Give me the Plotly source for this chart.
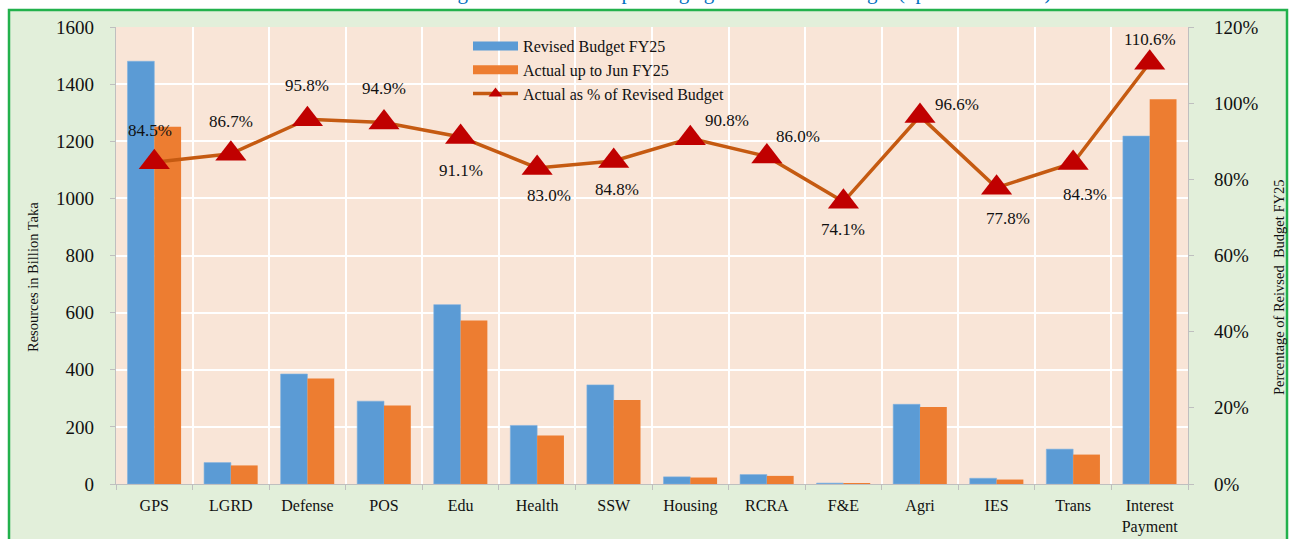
import plotly.graph_objects as go

categories = ["GPS", "LGRD", "Defense", "POS", "Edu", "Health", "SSW", "Housing",
              "RCRA", "F&E", "Agri", "IES", "Trans", "Interest<br>Payment"]
revised_budget = [1480, 75, 385, 290, 628, 205, 347, 25, 33, 3.0, 279, 20, 122, 1218]
actual_jun = [1251, 65, 369, 275, 572, 170, 294, 22.7, 28.4, 2.2, 270, 15.6, 103, 1347]
actual_pct = [84.5, 86.7, 95.8, 94.9, 91.1, 83.0, 84.8, 90.8, 86.0, 74.1, 96.6, 77.8, 84.3, 110.6]
pct_labels = [f"{v:.1f}%" for v in actual_pct]
# label offsets (pixels) relative to each point: (dx, dy), dy positive = down
label_offsets = [(-4, -32), (0, -32), (0, -34), (0, -34), (0, 33), (12, 28), (3, 28),
                 (37, -18), (31, -20), (0, 28), (37, -12), (11, 31), (12, 32), (0, -23)]

BLUE = "#5B9BD5"
ORANGE = "#ED7D31"
LINE = "#C55A11"
RED = "#C00000"
FONT = "Liberation Serif"

L, R, T, B = 116, 102, 27, 55
W, H = 1290, 539
PW, PH = W - L - R, H - T - B


def px(x):
    return (x - L) / PW


def py(y):
    return (H - B - y) / PH


fig = go.Figure()
fig.add_trace(go.Bar(x=categories, y=revised_budget, name="Revised Budget FY25",
                     marker=dict(color=BLUE, line=dict(color="#7FB2E0", width=0.6)),
                     showlegend=False))
fig.add_trace(go.Bar(x=categories, y=actual_jun, name="Actual up to Jun FY25",
                     marker=dict(color=ORANGE, line=dict(width=0)), showlegend=False))
fig.add_trace(go.Scatter(x=categories, y=actual_pct, yaxis="y2", mode="lines+markers",
                         name="Actual as % of Revised Budget",
                         line=dict(color=LINE, width=3.5),
                         marker=dict(symbol="triangle-up", size=27, color=RED),
                         showlegend=False, cliponaxis=False))
# legend entries
fig.add_trace(go.Scatter(x=[None], y=[None], mode="lines", name="Revised Budget FY25",
                         line=dict(color=BLUE, width=9)))
fig.add_trace(go.Scatter(x=[None], y=[None], mode="lines", name="Actual up to Jun FY25",
                         line=dict(color=ORANGE, width=9)))
fig.add_trace(go.Scatter(x=[None], y=[None], mode="lines+markers", yaxis="y2",
                         name="Actual as % of Revised Budget",
                         line=dict(color=LINE, width=3.5),
                         marker=dict(symbol="triangle-up", size=12, color=RED)))

annotations = [
    dict(text="Resources in Billion Taka", xref="paper", yref="paper",
         x=px(33), y=py(277), textangle=-90, showarrow=False,
         xanchor="center", yanchor="middle",
         font=dict(family=FONT, size=14.5, color="#111111")),
    dict(text="Percentage of Reivsed  Budget FY25", xref="paper", yref="paper",
         x=px(1279), y=py(288), textangle=-90, showarrow=False,
         xanchor="center", yanchor="middle",
         font=dict(family=FONT, size=14.5, color="#111111")),
    dict(text="Figure: Sector-wise Spending against Revised Budget (up to June FY25)",
         xref="paper", yref="paper", x=px(745), y=py(5.5), showarrow=False,
         xanchor="center", yanchor="bottom",
         font=dict(family=FONT, size=21, color="#0070C0")),
]
for cat, val, lab, (dx, dy) in zip(categories, actual_pct, pct_labels, label_offsets):
    annotations.append(dict(text=lab, x=cat, y=val, xref="x", yref="y2", showarrow=False,
                            xshift=dx, yshift=-dy, xanchor="center", yanchor="middle",
                            font=dict(family=FONT, size=17, color="#111111")))

fig.update_layout(
    width=W, height=H,
    margin=dict(l=L, r=R, t=T, b=B, autoexpand=False),
    paper_bgcolor="white",
    plot_bgcolor="#F9E5D7",
    barmode="group", bargap=0.3, bargroupgap=0,
    font=dict(family=FONT, size=17, color="#111111"),
    xaxis=dict(type="category", range=[-0.5, len(categories) - 0.5],
               tickson="boundaries", showgrid=True, gridcolor="white",
               gridwidth=1.5, showline=True, linecolor="#BFBFBF", linewidth=1.2,
               ticks="outside", ticklen=5, tickcolor="#BFBFBF", ticklabelstandoff=7,
               tickfont=dict(family=FONT, size=16, color="#111111")),
    yaxis=dict(range=[0, 1600], dtick=200, showgrid=True, gridcolor="white", gridwidth=1.5,
               zeroline=False, showline=True, linecolor="#BFBFBF", linewidth=1.2,
               ticks="outside", ticklen=5, tickcolor="#BFBFBF", ticklabelstandoff=12,
               tickfont=dict(family=FONT, size=19, color="#111111")),
    yaxis2=dict(range=[0, 120], dtick=20, ticksuffix="%", overlaying="y", side="right",
                showgrid=False, zeroline=False, showline=True, linecolor="#BFBFBF",
                linewidth=1.2, ticks="outside", ticklen=5, tickcolor="#BFBFBF",
                ticklabelstandoff=16,
                tickfont=dict(family=FONT, size=19, color="#111111")),
    legend=dict(x=px(468), y=py(29), xanchor="left", yanchor="top",
                bgcolor="rgba(0,0,0,0)", font=dict(family=FONT, size=16, color="#111111"),
                itemwidth=45, tracegroupgap=0),
    shapes=[
        dict(type="rect", xref="paper", yref="paper", layer="below",
             x0=px(9), x1=px(1287), y0=py(560), y1=py(10),
             line=dict(color="#22B14C", width=2.5), fillcolor="#E2EFDA"),
        dict(type="rect", xref="paper", yref="paper", layer="below",
             x0=0, x1=1, y0=0, y1=1, line=dict(width=0), fillcolor="#F9E5D7"),
    ],
    annotations=annotations,
)

fig.write_html("out.html", config={"displayModeBar": False},
               post_script="document.body.style.margin='0';")
